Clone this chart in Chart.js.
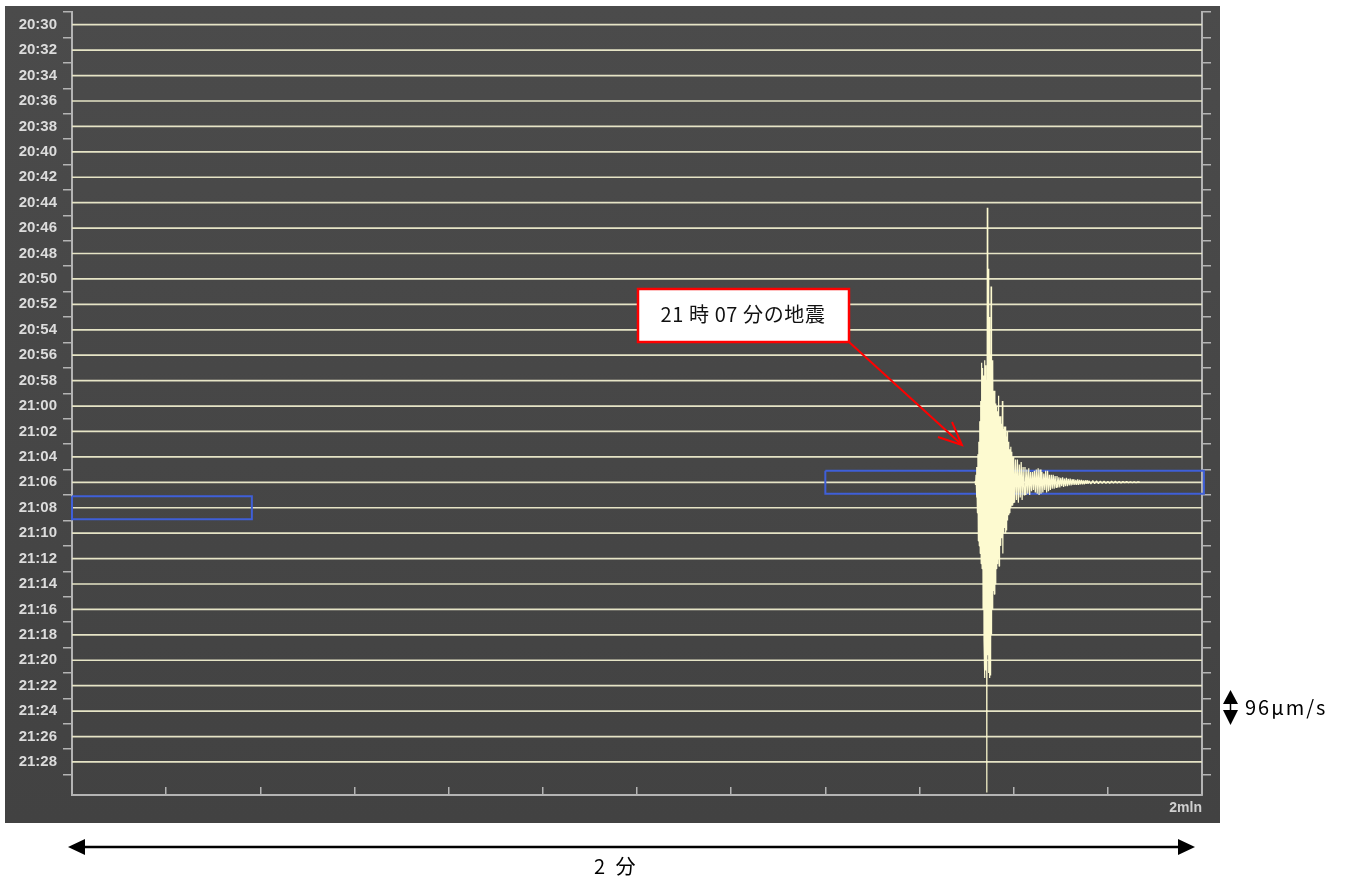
<!DOCTYPE html>
<html><head><meta charset="utf-8">
<script src="https://cdn.jsdelivr.net/npm/chart.js@4.4.1/dist/chart.umd.min.js"></script>
<style>
html,body{margin:0;padding:0;background:#fff;width:1349px;height:885px;overflow:hidden;}
#panel{position:absolute;left:5px;top:6px;width:1215px;height:817px;background:linear-gradient(#4b4b4b,#424242);}
#c{position:absolute;left:0;top:0;width:1215px;height:817px;}
#ov{position:absolute;left:0;top:0;pointer-events:none;}
</style></head><body>
<div id="panel"><canvas id="c" width="1215" height="817"></canvas></div>
<svg id="ov" width="1349" height="885" xmlns="http://www.w3.org/2000/svg">
  <rect x="638" y="289" width="211" height="53" fill="#ffffff" stroke="#ff0000" stroke-width="2.5"/>
  <text x="743" y="322" text-anchor="middle" font-family="Noto Sans CJK JP" font-size="20" letter-spacing="0.6" fill="#111">21 時 07 分の地震</text>
  <line x1="849" y1="342" x2="961" y2="444" stroke="#ff0000" stroke-width="2"/>
  <polyline points="938,437 962,445 952,422" fill="none" stroke="#ff0000" stroke-width="2"/>
  <line x1="80" y1="847" x2="1183" y2="847" stroke="#000" stroke-width="2.5"/>
  <polygon points="68,847 85,839 85,855" fill="#000"/>
  <polygon points="1195,847 1178,839 1178,855" fill="#000"/>
  <text x="594" y="874" font-family="Noto Sans CJK JP" font-size="20" letter-spacing="3" fill="#000">2 分</text>
  <polygon points="1223,704 1238,704 1230.5,690" fill="#000"/>
  <polygon points="1223,710 1238,710 1230.5,725" fill="#000"/>
  <line x1="1230.5" y1="703" x2="1230.5" y2="711" stroke="#000" stroke-width="1.5"/>
  <text x="1245" y="715" font-family="Noto Sans CJK JP" font-size="20" letter-spacing="2" fill="#000">96μm/s</text>
</svg>
<script>
// ---- data ----
const rowLabels = ['20:30','20:32','20:34','20:36','20:38','20:40','20:42','20:44','20:46','20:48',
  '20:50','20:52','20:54','20:56','20:58','21:00','21:02','21:04','21:06','21:08',
  '21:10','21:12','21:14','21:16','21:18','21:20','21:22','21:24','21:26','21:28'];
const windowSeconds = [0, 120];
const xTickSecs = [0,10,20,30,40,50,60,70,80,90,100,110,120];
const xTickLabels = ['','','','','','','','','','','','','2mln'];

const quakeRow = '21:06';
// amplitudes in row units (positive = up), sampled regularly
const quakeDenseStart = 95.9, quakeDenseStep = 0.05;
const quakeDense = [0.05,-0.1,0.3,-0.6,0.6,-1.2,1.1,-2.3,1.6,-2.5,
  2.4,-2.8,3.2,-3.2,4.7,-3.4,4.5,-5.0,4.2,-6.2,
  4.8,-7.7,4.6,-7.4,4.0,-12.2,10.8,-6.8,8.4,-7.5,
  6.5,-7.7,5.0,-7.6,7.7,-6.0,4.8,-5.0,4.8,-4.25,
  3.6,-4.4,3.6,-4.0,3.1,-3.4,3.0,-3.2,2.8,-3.0,
  3.4,-3.3,2.6,-2.4,2.6,-2.5,2.3,-2.2,3.2,-2.8,
  2.1,-2.0,2.2,-1.8,2.2,-2.0,1.8,-1.9,2.0,-1.5,
  1.6,-1.3,1.5,-1.2,1.3,-1.0,1.4,-0.9,1.2,-0.9,
  1.0,-0.8,1.0];
const quakeCodaStart = 100.1, quakeCodaStep = 0.1;
const quakeCoda = [-0.8,0.9,-0.7,0.9,-0.8,0.7,-0.6,0.8,-0.7,0.6,
  -0.5,0.6,-0.5,0.5,-0.45,0.55,-0.5,0.4,-0.35,0.4,
  -0.3,0.45,-0.4,0.5,-0.45,0.55,-0.5,0.5,-0.45,0.4,
  -0.4,0.35,-0.3,0.45,-0.4,0.45,-0.35,0.3,-0.3,0.3,
  -0.25,0.3,-0.25,0.25,-0.2,0.25,-0.2,0.2,-0.2,0.18,
  -0.15,0.2,-0.18,0.15,-0.15,0.18,-0.15,0.14,-0.12,0.15,
  -0.12,0.12,-0.1,0.12,-0.1,0.1,-0.1,0.12,-0.1,0.1,
  -0.08,0.1,-0.08,0.08,-0.08,0.08,-0.06,0.08,-0.06,0.06];
const quakeTailStart = 108.2, quakeTailStep = 0.2;
const quakeTail = [-0.06,0.07,-0.05,0.06,-0.05,0.05,-0.04,0.05,-0.04,0.04,
  -0.04,0.05,-0.03,0.04,-0.03,0.03,-0.03,0.03,-0.02,0.03,
  -0.02,0.02,-0.02,0.02,-0.02,0.02,0];

const boxRows = ['21:08','21:06'];
const boxFrom = [0, 80];
const boxTo = [19.1, 120.2];

// ---- build ----
const axisColor = '#b4b4b4';
const datasets = [];
rowLabels.forEach((lab, i) => {
  datasets.push({
    data: [{x: windowSeconds[0], y: i}, {x: windowSeconds[1], y: i}],
    borderColor: '#e6e4c6', borderWidth: 1.7, order: 3, yAxisID: 'y'
  });
});
boxRows.forEach((lab, j) => {
  const r = rowLabels.indexOf(lab), h = 0.45;
  datasets.push({
    data: [{x: boxFrom[j], y: r - h}, {x: boxTo[j], y: r - h}, {x: boxTo[j], y: r + h},
           {x: boxFrom[j], y: r + h}, {x: boxFrom[j], y: r - h}],
    borderColor: '#3f5fd8', borderWidth: 2, order: 2, clip: 4, yAxisID: 'y'
  });
});
(function () {
  const r = rowLabels.indexOf(quakeRow);
  const pts = [];
  quakeDense.forEach((a, k) => pts.push({x: quakeDenseStart + k * quakeDenseStep, y: r - a}));
  quakeCoda.forEach((a, k) => pts.push({x: quakeCodaStart + k * quakeCodaStep, y: r - a}));
  quakeTail.forEach((a, k) => pts.push({x: quakeTailStart + k * quakeTailStep, y: r - a}));
  datasets.push({data: pts, borderColor: '#fdfad0', borderWidth: 1.2, borderJoinStyle: 'bevel',
    order: 1, clip: false, yAxisID: 'y'});
})();

const yTicks = [];
rowLabels.forEach((l, i) => { yTicks.push(i - 0.5); yTicks.push(i); });
yTicks.push(rowLabels.length - 0.5);

const labelFont = {family: 'Liberation Sans', weight: 'bold', size: 15};
const gridColor = ctx => (ctx.tick && Number.isInteger(ctx.tick.value)) ? 'rgba(0,0,0,0)' : axisColor;

function yAxis(pos, w, showLabels) {
  return {
    type: 'linear', axis: 'y', position: pos, reverse: true, min: -0.5, max: 30.3,
    afterBuildTicks: s => { s.ticks = yTicks.map(v => ({value: v})); },
    afterFit: s => { s.width = w; s.paddingTop = 0; s.paddingBottom = 0; },
    grid: {drawOnChartArea: false, drawTicks: true, tickLength: 9, color: gridColor, lineWidth: 1.5},
    border: {display: true, color: axisColor, width: 2},
    ticks: {display: showLabels, autoSkip: false, padding: 6, color: '#dcdcdc', font: labelFont,
      callback: v => Number.isInteger(v) ? rowLabels[v] : ''}
  };
}

new Chart(document.getElementById('c'), {
  type: 'line',
  data: {datasets},
  options: {
    responsive: false, animation: false, events: [],
    layout: {padding: {top: 6, left: 0, right: 0, bottom: 0}},
    plugins: {legend: {display: false}, tooltip: {enabled: false}},
    elements: {point: {radius: 0}, line: {tension: 0}},
    scales: {
      x: {
        type: 'linear', position: 'bottom', min: windowSeconds[0], max: windowSeconds[1],
        afterBuildTicks: s => { s.ticks = xTickSecs.map(v => ({value: v})); },
        afterFit: s => { s.height = 28; s.paddingLeft = 0; s.paddingRight = 0; },
        grid: {drawOnChartArea: false, drawTicks: true, tickLength: -8, color: axisColor, lineWidth: 1.5},
        border: {display: true, color: axisColor, width: 2},
        ticks: {autoSkip: false, maxRotation: 0, align: 'end', padding: 13, color: '#d0d0d0',
          font: {family: 'Liberation Sans', weight: 'bold', size: 14},
          callback: v => { const k = xTickSecs.indexOf(v); return k >= 0 ? xTickLabels[k] : ''; }}
      },
      y: yAxis('left', 67, true),
      yr: yAxis('right', 18, false)
    }
  }
});
</script>
</body></html>
